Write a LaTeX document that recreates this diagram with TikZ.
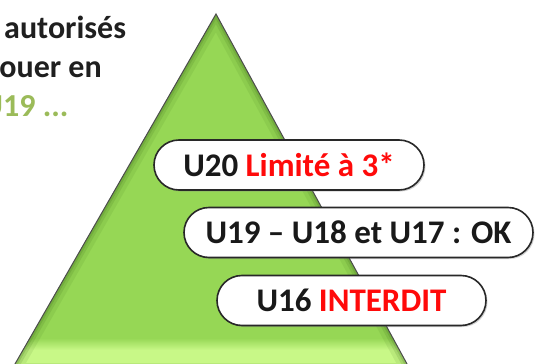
\documentclass[tikz,border=0pt]{standalone}
\usepackage{fontspec}
\setmainfont{Carlito}
\usetikzlibrary{shadows}

\definecolor{tri}{RGB}{150,215,85}
\definecolor{trilight}{RGB}{200,248,135}
\definecolor{tridark}{RGB}{60,110,25}
\definecolor{txtgreen}{RGB}{155,187,89}
\definecolor{pillline}{RGB}{40,40,40}
\definecolor{pilledge}{RGB}{218,238,198}
\definecolor{alert}{RGB}{255,10,10}

\pgfdeclareradialshading{pillglow}{\pgfpoint{0bp}{0bp}}{color(0bp)=(white); color(36bp)=(white); color(50bp)=(pilledge); color(75bp)=(pilledge)}

\tikzset{
  pill/.style={draw=pillline, line width=1.6pt, rounded corners=25pt,
    minimum height=50pt, shading=pillglow, inner sep=0pt,
    font=\bfseries\fontsize{33}{33}\selectfont, text=black!90,
    drop shadow={shadow xshift=1.5pt, shadow yshift=-1.5pt, opacity=0.35}},
  sidetext/.style={anchor=base west, inner sep=0pt,
    font=\bfseries\fontsize{32}{32}\selectfont, text=black!88}
}

\begin{document}
\begin{tikzpicture}[x=1pt,y=-1pt]
\useasboundingbox (0,0) rectangle (536,364);
\clip (0,0) rectangle (536,364);
\fill[white] (0,0) rectangle (536,364);

% pyramid
\def\tripath{(216,14) -- (411.4,372) -- (10.4,372) -- cycle}
\begin{scope}
  \clip \tripath;
  \fill[tri] \tripath;
  \shade[top color=tri, bottom color=trilight] (0,338) rectangle (536,350);
  \fill[trilight] (0,350) rectangle (536,372);
  \draw[tridark, opacity=.10, line width=18pt] \tripath;
  \draw[tridark, opacity=.15, line width=10pt] \tripath;
  \draw[tridark, opacity=.20, line width=5pt] \tripath;
\end{scope}
\draw[black!70, line width=1pt] \tripath;

% side text
\node[sidetext] (t1) at (4,38) {autorisés};
\node[sidetext] (t2) at (-9,77) {jouer en};
\node[sidetext, text=txtgreen] (t3) at (-18,116) {U19 ...};

% pills
\node[pill, minimum width=270pt] (p1) at (289,165) {U20 \textcolor{alert}{Limité à 3*}};
\node[pill, minimum width=349pt] (p2) at (358.5,232.5) {U19 – U18 et U17 : OK};
\node[pill, minimum width=269pt] (p3) at (351.5,300.5) {U16 \textcolor{alert}{INTERDIT}};
\end{tikzpicture}
\end{document}
